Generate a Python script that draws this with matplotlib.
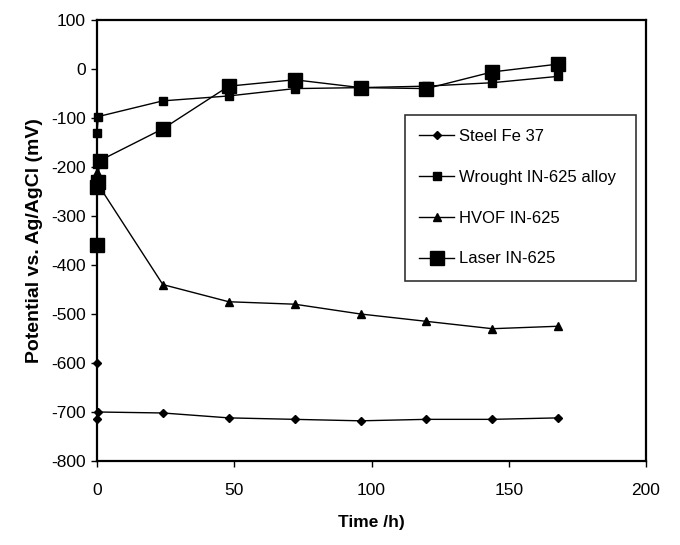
import matplotlib
matplotlib.use("Agg")
import matplotlib.pyplot as plt

plt.rcParams['font.family'] = ['Liberation Sans', 'DejaVu Sans']
plt.rcParams['axes.unicode_minus'] = False

# time in hours and potentials in mV
steel_t = [0, 0.1, 0.5, 24, 48, 72, 96, 120, 144, 168]
steel_v = [-600, -715, -700, -702, -712, -715, -718, -715, -715, -712]

wrought_t = [0, 0.5, 24, 48, 72, 96, 120, 144, 168]
wrought_v = [-130, -97, -65, -55, -40, -38, -35, -28, -15]

hvof_t = [0, 0.3, 24, 48, 72, 96, 120, 144, 168]
hvof_v = [-210, -235, -440, -475, -480, -500, -515, -530, -525]

laser_t = [0, 0.1, 0.3, 1, 24, 48, 72, 96, 120, 144, 168]
laser_v = [-360, -240, -230, -187, -122, -35, -22, -38, -40, -6, 10]

fig = plt.figure(figsize=(6.8, 5.45), dpi=100)
ax = fig.add_axes([97/680, 1-461/545, 549/680, 441/545])

ax.plot(steel_t, steel_v, color='black', lw=1, marker='D', ms=4.5, clip_on=False, label='Steel Fe 37')
ax.plot(wrought_t, wrought_v, color='black', lw=1, marker='s', ms=5.5, clip_on=False, label='Wrought IN-625 alloy')
ax.plot(hvof_t, hvof_v, color='black', lw=1, marker='^', ms=6, clip_on=False, label='HVOF IN-625')
ax.plot(laser_t, laser_v, color='black', lw=1, marker='s', ms=10, clip_on=False, label='Laser IN-625')

ax.set_xlim(0, 200)
ax.set_ylim(-800, 100)
ax.set_xticks([0, 50, 100, 150, 200])
ax.set_yticks(range(-800, 101, 100))
ax.tick_params(direction='out', length=4, width=1, labelsize=12.5, pad=4)
ax.tick_params(axis='x', pad=12)
for s in ax.spines.values():
    s.set_linewidth(1.6)

ax.set_xlabel('Time /h)', fontsize=12.5, fontweight='bold', labelpad=12)
ax.set_ylabel('Potential vs. Ag/AgCl (mV)', fontsize=14, fontweight='bold', labelpad=6)

leg = ax.legend(loc='upper left', bbox_to_anchor=(0.561, 0.40, 0.42, 0.385), mode='expand',
                frameon=True, fancybox=False, shadow=False, framealpha=1,
                fontsize=12, labelspacing=1.55,
                borderpad=0.85, handlelength=2.1, handletextpad=0.3, borderaxespad=0)
leg.get_frame().set_edgecolor('#333333')
leg.get_frame().set_linewidth(1.2)

fig.savefig('out.png', dpi=100)
